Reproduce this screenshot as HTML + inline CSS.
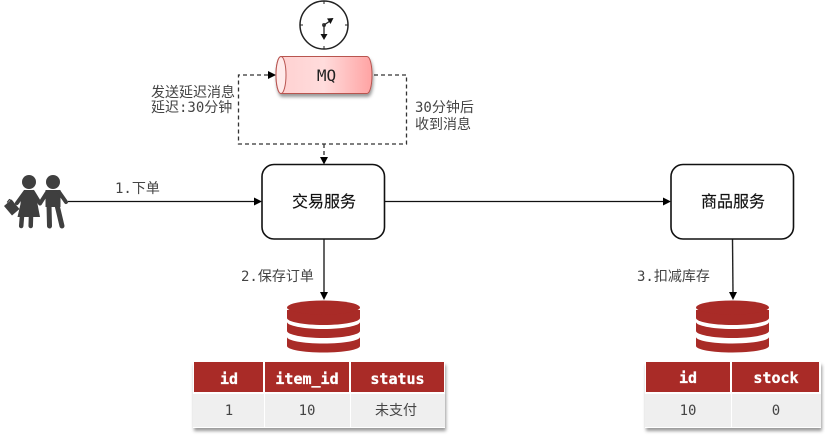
<!DOCTYPE html>
<html><head><meta charset="utf-8"><style>
html,body{margin:0;padding:0;background:#fff}
body{width:825px;height:435px;overflow:hidden}
svg{display:block}
text{font-family:"DejaVu Sans Mono","Noto Sans CJK SC",monospace}
.l{font-size:14px;fill:#444}
.h{font-size:15px;font-weight:bold;fill:#fff;text-anchor:middle;stroke:#fff;stroke-width:.3px}
.c{font-size:14px;fill:#444;text-anchor:middle}
.s{font-size:16px;fill:#111;text-anchor:middle;stroke:#111;stroke-width:.15px}
</style></head><body>
<svg width="825" height="435" viewBox="0 0 825 435" xmlns="http://www.w3.org/2000/svg">
<defs>
<linearGradient id="g" x1="0" x2="1" y1="0" y2="0"><stop offset="0" stop-color="#ffd0d0"/><stop offset=".5" stop-color="#ffdcdc"/><stop offset="1" stop-color="#ffa3a3"/></linearGradient>
<filter id="sh" x="-10%" y="-10%" width="120%" height="130%"><feDropShadow dx="1" dy="3" stdDeviation="1.5" flood-color="#000" flood-opacity=".4"/></filter>
<g id="db">
<path d="M0 37v9c0 3.500 16 6.500 36.500 6.500S73 49.500 73 46v-9c0 3.500-16 6.500-36.500 6.500S0 40.500 0 37z" fill="#a92b27"/>
<path d="M0 22v9c0 3.500 16 7 36.500 7S73 34.500 73 31v-9c0 3.500-16 7-36.500 7S0 25.500 0 22z" fill="#a92b27"/>
<path d="M0 10v8c0 3.800 16 7 36.500 7S73 21.800 73 18v-8z" fill="#a92b27"/>
<ellipse cx="36.500" cy="7.500" rx="36.500" ry="7" fill="#a92b27"/>
</g>
</defs>

<!-- clock -->
<circle cx="324" cy="25" r="24" fill="#fff" stroke="#222" stroke-width="1.500"/>
<path d="M324 1v3M324 46v3M300 25h3M345 25h3" stroke="#222"/>
<circle cx="324" cy="25" r="2" fill="#444"/>
<path d="M324 25V36" stroke="#222" stroke-width="1.300"/>
<path d="M320.500 34h7l-3.500 6z" fill="#111"/>
<path d="M324 25l6-4" stroke="#222" stroke-width="1.300"/>
<path d="M327 18.500l6.500-.5-3 6z" fill="#111"/>

<!-- dashed -->
<g fill="none" stroke="#333" stroke-width="1.300" stroke-dasharray="4 3">
<path d="M268 75H238.500V144H406.500V75H372"/>
<path d="M324 144V158"/>
</g>
<path d="M268 71l8 4-8 4z" fill="#000"/>
<path d="M320 157l4 7.500 4-7.500z" fill="#000"/>

<!-- MQ -->
<g filter="url(#sh)">
<path d="M281 56.500H367c3 0 5 8.500 5 18.500s-2 18.500-5 18.500H281c-3 0-5-8.500-5-18.500s2-18.500 5-18.500z" fill="url(#g)" stroke="#b85450"/>
</g>
<ellipse cx="281" cy="75" rx="5" ry="18.500" fill="#ffeaea" stroke="#b85450"/>
<text x="326.500" y="81" text-anchor="middle" style="font-size:16px;fill:#222">MQ</text>

<text class="l" x="151" y="97">发送延迟消息</text>
<text class="l" x="151" y="112">延迟:30分钟</text>
<text class="l" x="415" y="112">30分钟后</text>
<text class="l" x="415" y="129">收到消息</text>

<!-- people -->
<g fill="#3f3f3f" stroke="none">
<circle cx="29" cy="182" r="7"/>
<circle cx="53" cy="182" r="7"/>
<path d="M24 190h10l3 8 .5 6 2.500 13H17.500l3-13 .5-6z"/>
<path d="M45.500 190h15v17h-15z"/>
<path d="M4 206l7.500-6.500 8 9.500-7.500 6.500z"/>
</g>
<g fill="none" stroke="#3f3f3f" stroke-linecap="round" stroke-linejoin="round">
<path d="M7.500 202l2-2.500 3 2" stroke-width="1.300"/>
<path d="M25 192l-8 11" stroke-width="4"/>
<path d="M33 192l7 11.500 7-11" stroke-width="4"/>
<path d="M59 192l7 10" stroke-width="4"/>
<path d="M22 216l-.8 10M31 216l-.3 10" stroke-width="4.500"/>
<path d="M49 205l.5 21M57 205l5 21" stroke-width="5"/>
</g>

<!-- connectors -->
<path d="M68 201.500H254M385 201.500H663" stroke="#111" stroke-width="1.300"/>
<path d="M254 197.500l8 4-8 4zM663 197.500l8 4-8 4z" fill="#000"/>
<text class="l" x="115" y="193">1.下单</text>

<path d="M324 239V293" stroke="#222" stroke-width="1.400"/>
<path d="M320 292l4 8 4-8z" fill="#000"/>
<path d="M732.500 239l.5 54" stroke="#222" stroke-width="1.400"/>
<path d="M729 292l4 8 4-8z" fill="#000"/>
<text class="l" x="241" y="281">2.保存订单</text>
<text class="l" x="637" y="281">3.扣减库存</text>

<!-- services -->
<rect x="262" y="164.500" width="122.500" height="74.500" rx="12" fill="#fff" stroke="#111" stroke-width="1.600"/>
<text class="s" x="324" y="207">交易服务</text>
<rect x="671" y="164.500" width="122.500" height="74.500" rx="12" fill="#fff" stroke="#111" stroke-width="1.600"/>
<text class="s" x="733" y="207">商品服务</text>

<use href="#db" x="287" y="300"/>
<use href="#db" x="696" y="300"/>

<!-- table 1 -->
<rect x="193" y="362" width="252" height="66" fill="#fff" filter="url(#sh)"/>
<rect x="194" y="362" width="69" height="30" fill="#a92b27"/>
<rect x="265" y="362" width="84" height="30" fill="#a92b27"/>
<rect x="351" y="362" width="93" height="30" fill="#a92b27"/>
<rect x="193" y="394" width="71" height="33" fill="#efefef"/>
<rect x="265" y="394" width="85" height="33" fill="#efefef"/>
<rect x="351" y="394" width="94" height="33" fill="#efefef"/>
<text class="h" x="229" y="384">id</text>
<text class="h" x="307" y="384">item_id</text>
<text class="h" x="397.500" y="384">status</text>
<text class="c" x="229" y="415">1</text>
<text class="c" x="307" y="415">10</text>
<text class="c" x="396" y="415">未支付</text>

<!-- table 2 -->
<rect x="645" y="362" width="176" height="66" fill="#fff" filter="url(#sh)"/>
<rect x="646" y="362" width="84" height="30" fill="#a92b27"/>
<rect x="732" y="362" width="87" height="30" fill="#a92b27"/>
<rect x="645" y="394" width="86" height="33" fill="#efefef"/>
<rect x="732" y="394" width="89" height="33" fill="#efefef"/>
<text class="h" x="688" y="383">id</text>
<text class="h" x="776" y="383">stock</text>
<text class="c" x="688" y="415">10</text>
<text class="c" x="776" y="415">0</text>
</svg>
</body></html>
